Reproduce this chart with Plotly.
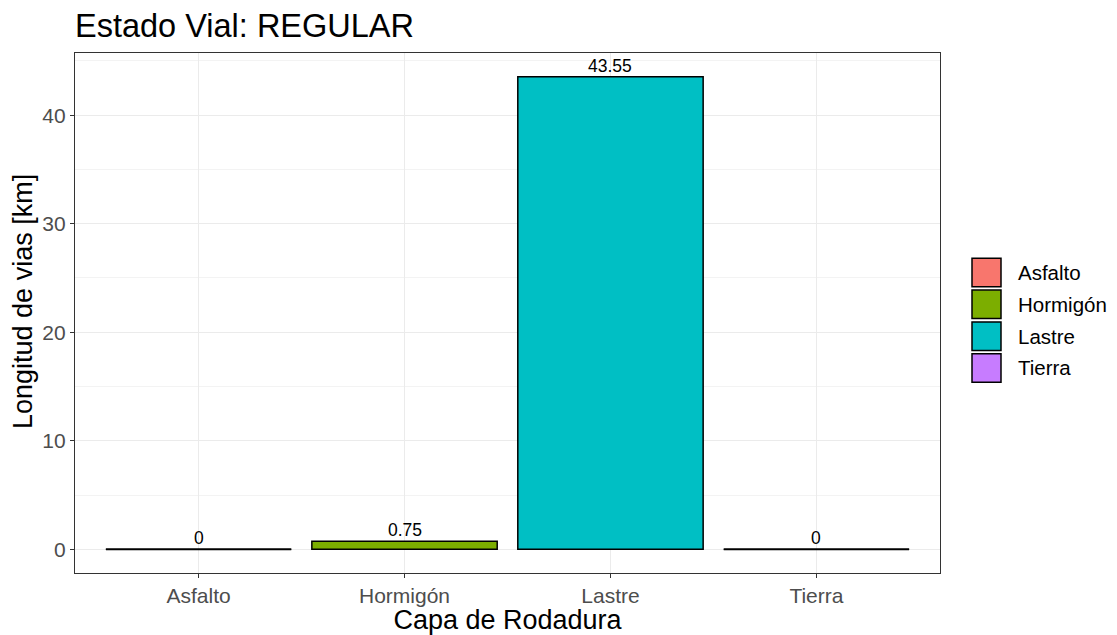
import plotly.graph_objects as go

categories = ["Asfalto", "Hormigón", "Lastre", "Tierra"]
values = [0, 0.75, 43.55, 0]
colors = ["#F8766D", "#7CAE00", "#00BFC4", "#C77CFF"]
label_texts = ["0", "0.75", "43.55", "0"]
y_ticks = [0, 10, 20, 30, 40]

FONT = "Liberation Sans, Arial, sans-serif"
W, H = 1117, 635
L, R, T, B = 75, 177, 53, 62
PW, PH = W - L - R, H - T - B

fig = go.Figure()
xs = list(range(1, len(categories) + 1))
fig.add_trace(go.Bar(
    x=xs, y=values, width=0.9,
    marker=dict(color=colors, line=dict(color="black", width=1.5)),
    showlegend=False, hoverinfo="skip",
))
# zero-height bars drawn as outlines
for x, v in zip(xs, values):
    if v == 0:
        fig.add_trace(go.Scatter(
            x=[x - 0.45, x + 0.45], y=[v, v], mode="lines",
            line=dict(color="black", width=1.8), showlegend=False, hoverinfo="skip"))

for x, v, t in zip(xs, values, label_texts):
    fig.add_annotation(x=x, y=v, text=t, showarrow=False, yanchor="bottom",
                       yshift=-1, font=dict(family=FONT, size=17.5, color="black"))

vmax = max(values)
pad = 0.05 * vmax
fig.update_layout(
    width=W, height=H,
    margin=dict(l=L, r=R, t=T, b=B, autoexpand=False),
    plot_bgcolor="white", paper_bgcolor="white",
    bargap=0.1,
    title=dict(text="Estado Vial: REGULAR", x=L / W, xanchor="left",
               y=1 - 26 / H, yanchor="middle",
               font=dict(family=FONT, size=32.5, color="black")),
    xaxis=dict(
        automargin=False,
        range=[0.4, len(categories) + 0.6],
        tickmode="array", tickvals=xs, ticktext=categories,
        showgrid=True, gridcolor="#EBEBEB", gridwidth=1.2,
        ticks="outside", ticklen=4, tickcolor="#333333", tickwidth=1.1,
        tickfont=dict(family=FONT, size=21, color="#4D4D4D"),
        title=dict(text="Capa de Rodadura", font=dict(family=FONT, size=27, color="black"),
                   standoff=1),
        showline=True, linecolor="#333333", linewidth=1.2, mirror=True,
        zeroline=False,
    ),
    yaxis=dict(
        automargin=False,
        range=[-pad, vmax + pad],
        tickmode="array", tickvals=y_ticks,
        showgrid=True, gridcolor="#EBEBEB", gridwidth=1.2,
        minor=dict(tickmode="array", tickvals=[5, 15, 25, 35, 45],
                   showgrid=True, gridcolor="#F3F3F3", gridwidth=0.6, ticks=""),
        ticks="outside", ticklen=4, tickcolor="#333333", tickwidth=1.1,
        tickfont=dict(family=FONT, size=21, color="#4D4D4D"),
        showline=True, linecolor="#333333", linewidth=1.2, mirror=True,
        zeroline=False,
    ),
)

# y-axis title, placed as in the reference (slightly above panel centre)
fig.add_annotation(xref="paper", yref="paper",
                   x=(23 - L) / PW, y=1 - (302 - T) / PH,
                   text="Longitud de vias [km]", textangle=-90, showarrow=False,
                   xanchor="center", yanchor="middle",
                   font=dict(family=FONT, size=27, color="black"))

# manual legend (ggplot style keys)
key_x0, key_w, key_h, key_step = 972, 29, 28.5, 31.8
key_y0 = 258.3
for i, (c, col) in enumerate(zip(categories, colors)):
    y0 = key_y0 + i * key_step
    fig.add_shape(type="rect", xref="paper", yref="paper",
                  x0=(key_x0 - L) / PW, x1=(key_x0 + key_w - L) / PW,
                  y0=1 - (y0 + key_h - T) / PH, y1=1 - (y0 - T) / PH,
                  fillcolor=col, line=dict(color="black", width=1.5), layer="above")
    fig.add_annotation(xref="paper", yref="paper",
                       x=(1016 - L) / PW,
                       y=1 - (y0 + key_h / 2 - T) / PH,
                       text=c, showarrow=False, xanchor="left", yanchor="middle",
                       font=dict(family=FONT, size=20.5, color="black"))

fig.write_html("out.html", config={"displayModeBar": False},
               post_script="document.body.style.margin='0';document.body.style.overflow='hidden';")
